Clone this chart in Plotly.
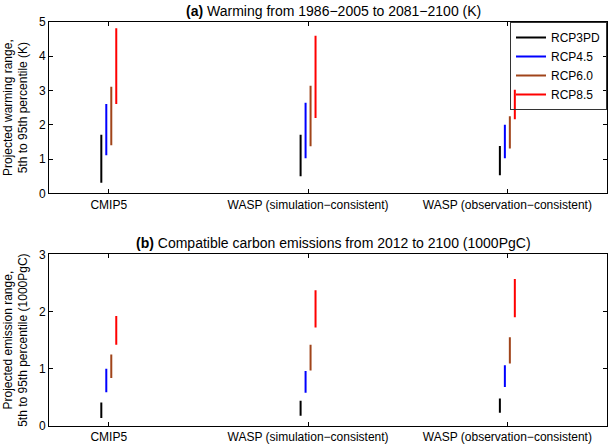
import plotly.graph_objects as go

categories = ["CMIP5", "WASP (simulation\u2212consistent)", "WASP (observation\u2212consistent)"]
scenarios = ["RCP3PD", "RCP4.5", "RCP6.0", "RCP8.5"]
colors = ["#000000", "#0000ff", "#a0441a", "#ff0000"]

# Panel (a): warming 5th / 95th percentile (K), per scenario, per category
warm_lo = {
    "RCP3PD": [0.31, 0.50, 0.53],
    "RCP4.5": [1.11, 1.02, 1.02],
    "RCP6.0": [1.40, 1.37, 1.31],
    "RCP8.5": [2.61, 2.20, 2.16],
}
warm_hi = {
    "RCP3PD": [1.71, 1.71, 1.38],
    "RCP4.5": [2.61, 2.64, 2.00],
    "RCP6.0": [3.11, 3.14, 2.25],
    "RCP8.5": [4.82, 4.60, 3.02],
}
# Panel (b): emissions 5th / 95th percentile (1000 PgC)
emis_lo = {
    "RCP3PD": [0.14, 0.18, 0.23],
    "RCP4.5": [0.59, 0.58, 0.68],
    "RCP6.0": [0.84, 0.97, 1.09],
    "RCP8.5": [1.42, 1.72, 1.90],
}
emis_hi = {
    "RCP3PD": [0.41, 0.44, 0.48],
    "RCP4.5": [1.00, 0.96, 1.06],
    "RCP6.0": [1.25, 1.42, 1.55],
    "RCP8.5": [1.92, 2.37, 2.57],
}
offsets = [-0.0375, -0.0125, 0.0125, 0.0375]

fig = go.Figure()
for i, s in enumerate(scenarios):
    for panel, (lo, hi, yax) in enumerate([(warm_lo, warm_hi, "y"), (emis_lo, emis_hi, "y2")]):
        xs, ys = [], []
        for c in range(len(categories)):
            x = c + 1 + offsets[i]
            xs += [x, x, None]
            ys += [lo[s][c], hi[s][c], None]
        fig.add_trace(go.Scatter(
            x=xs, y=ys, mode="lines", name=s,
            line=dict(color=colors[i], width=2),
            xaxis="x" if panel == 0 else "x2", yaxis=yax,
            showlegend=(panel == 0), legendgroup=s, hoverinfo="skip",
        ))

font = "Liberation Sans, Arial, Helvetica, sans-serif"
axis_common = dict(
    showline=True, linecolor="black", linewidth=1, mirror="ticks",
    ticks="inside", ticklen=4, tickcolor="black", showgrid=False, zeroline=False,
    tickfont=dict(size=12, color="black", family=font),
)
fig.update_layout(
    width=610, height=446,
    margin=dict(l=49, r=2, t=22, b=17),
    paper_bgcolor="white", plot_bgcolor="white",
    font=dict(family=font, color="black"),
    xaxis=dict(domain=[0, 1], range=[0.7, 3.5], tickvals=[1, 2, 3], ticktext=categories,
               anchor="y", **axis_common),
    yaxis=dict(domain=[0.576, 1], range=[0, 5], tickvals=[0, 1, 2, 3, 4, 5], anchor="x",
               title=dict(text="Projected warming range,<br>5th to 95th percentile (K)",
                          font=dict(size=12), standoff=8),
               **axis_common),
    xaxis2=dict(domain=[0, 1], range=[0.7, 3.5], tickvals=[1, 2, 3], ticktext=categories,
                anchor="y2", **axis_common),
    yaxis2=dict(domain=[0, 0.425], range=[0, 3], tickvals=[0, 1, 2, 3], anchor="x2",
                title=dict(text="Projected emission range,<br>5th to 95th percentile (1000PgC)",
                           font=dict(size=12), standoff=8),
                **axis_common),
    legend=dict(x=1, xanchor="right", y=1, yanchor="top", bgcolor="rgba(255,255,255,0)",
                bordercolor="#333333", borderwidth=1, font=dict(size=12),
                tracegroupgap=0, itemwidth=30),
    annotations=[
        dict(text="<b>(a)</b> Warming from 1986\u22122005 to 2081\u22122100 (K)",
             x=0.51, xref="paper", y=1, yref="paper", yanchor="bottom", yshift=1,
             showarrow=False, font=dict(size=14)),
        dict(text="<b>(b)</b> Compatible carbon emissions from 2012 to 2100 (1000PgC)",
             x=0.51, xref="paper", y=0.425, yref="paper", yanchor="bottom", yshift=1,
             showarrow=False, font=dict(size=14)),
    ],
)
fig.write_html("out.html", config={"displayModeBar": False},
               post_script="document.body.style.margin='0';")
